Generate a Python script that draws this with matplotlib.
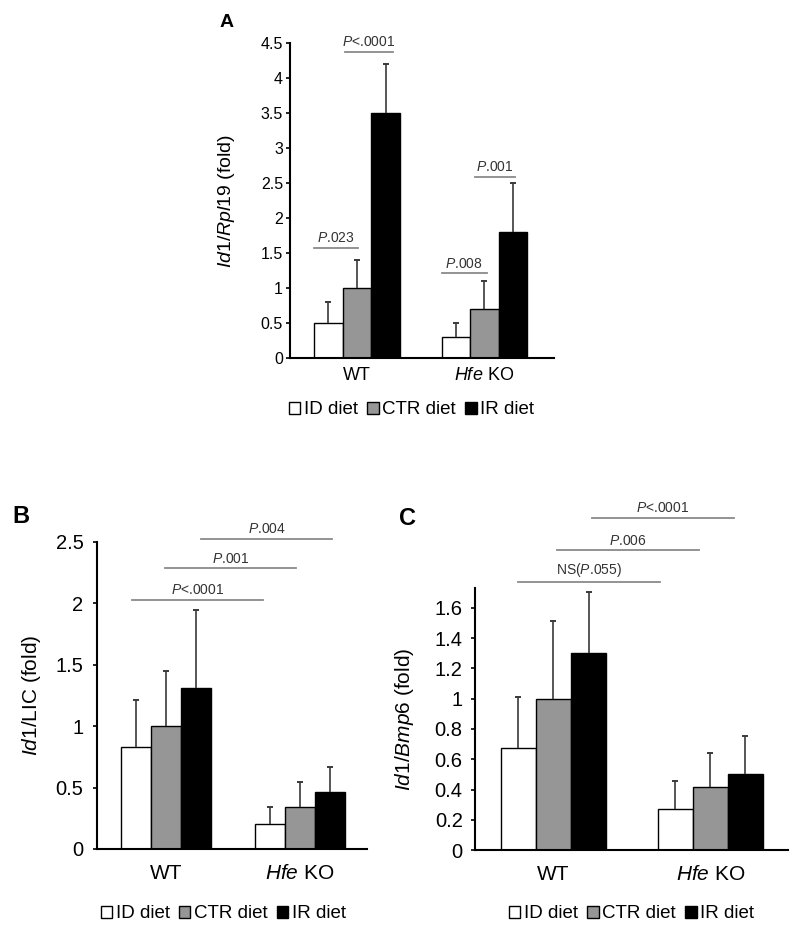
import numpy as np
import matplotlib
matplotlib.use("Agg")
import matplotlib.pyplot as plt
from matplotlib.ticker import FormatStrFormatter

plt.rcParams['font.family'] = ['Liberation Sans', 'DejaVu Sans']
plt.rcParams['mathtext.fontset'] = 'custom'
plt.rcParams['mathtext.rm'] = 'Liberation Sans'
plt.rcParams['mathtext.it'] = 'Liberation Sans:italic'

# categories
groups = ['WT', r'$\mathit{Hfe}$ KO']
diets = ['ID diet', 'CTR diet', 'IR diet']
diet_colors = ['white', '#969696', 'black']

# panel A : Id1/Rpl19
a_id = [0.5, 0.3]
a_ctr = [1.0, 0.7]
a_ir = [3.5, 1.8]
a_id_sd = [0.3, 0.2]
a_ctr_sd = [0.4, 0.4]
a_ir_sd = [0.7, 0.7]

# panel B : Id1/LIC
b_id = [0.83, 0.2]
b_ctr = [1.0, 0.345]
b_ir = [1.31, 0.465]
b_id_sd = [0.385, 0.145]
b_ctr_sd = [0.45, 0.2]
b_ir_sd = [0.635, 0.2]

# panel C : Id1/Bmp6
c_id = [0.673, 0.273]
c_ctr = [1.0, 0.415]
c_ir = [1.3, 0.5]
c_id_sd = [0.337, 0.182]
c_ctr_sd = [0.517, 0.226]
c_ir_sd = [0.406, 0.253]

# significance annotations: (x start, x end, y, text)
a_sig = [(-0.337, 0.009, 1.57, r'$\mathit{P}$.023'),
         (-0.094, 0.285, 4.37, r'$\mathit{P}$<.0001'),
         (0.664, 1.017, 1.21, r'$\mathit{P}$.008'),
         (0.925, 1.24, 2.59, r'$\mathit{P}$.001')]
b_sig = [(-0.254, 0.725, 2.027, r'$\mathit{P}$<.0001'),
         (-0.01, 0.97, 2.283, r'$\mathit{P}$.001'),
         (0.26, 1.24, 2.52, r'$\mathit{P}$.004')]
c_sig = [(-0.229, 0.68, 1.77, r'NS($\mathit{P}$.055)'),
         (0.022, 0.93, 1.98, r'$\mathit{P}$.006'),
         (0.245, 1.153, 2.196, r'$\mathit{P}$<.0001')]

fig = plt.figure(figsize=(8, 9.38), dpi=100)

axA = fig.add_axes([0.3625, 0.6183, 0.33, 0.3358])
axB = fig.add_axes([0.121, 0.0949, 0.338, 0.3276])
axC = fig.add_axes([0.594, 0.0938, 0.391, 0.279])

w = 0.224


def draw_panel(ax, means, sds, sig, ylim, yticks, xlim, ylabel, fs_tick, ypad, fs_x,
               fs_lab, fs_sig, xpad, labx):
    x = np.arange(len(groups))
    for i in range(3):
        xi = x + (i - 1) * w
        ax.bar(xi, means[i], w, color=diet_colors[i], edgecolor='black',
               linewidth=1.0, label=diets[i], zorder=2)
        # upper error bar only
        tops = np.array(means[i]) + np.array(sds[i])
        ax.vlines(xi, means[i], tops, color='#3a3a3a', lw=1.2, zorder=3)
        ax.plot(xi, tops, ls='none', marker='_', ms=5, mew=1.4, color='#3a3a3a',
                zorder=3)
    for x0, x1, y, s in sig:
        ax.plot([x0, x1], [y, y], color='#8a8a8a', lw=1.3, clip_on=False)
        ax.annotate(s, ((x0 + x1) / 2, y), xytext=(0, 2), textcoords='offset points',
                    ha='center', va='bottom', fontsize=fs_sig, color='#333333',
                    annotation_clip=False)
    ax.set_xlim(xlim)
    ax.set_ylim(ylim)
    ax.set_yticks(yticks)
    ax.yaxis.set_major_formatter(FormatStrFormatter('%g'))
    ax.set_xticks(x)
    ax.set_xticklabels(groups, fontsize=fs_x)
    ax.tick_params(axis='x', length=0, pad=xpad)
    ax.tick_params(axis='y', labelsize=fs_tick, length=3, width=1.2, direction='out',
                   pad=ypad)
    for s in ['top', 'right']:
        ax.spines[s].set_visible(False)
    for s in ['left', 'bottom']:
        ax.spines[s].set_linewidth(1.5)
    ax.set_ylabel(ylabel, fontsize=fs_lab)
    ax.yaxis.set_label_coords(labx, 0.5)


draw_panel(axA, [a_id, a_ctr, a_ir], [a_id_sd, a_ctr_sd, a_ir_sd], a_sig,
           (0, 4.5), np.arange(0, 4.51, 0.5), (-0.525, 1.545),
           r'$\mathit{Id1/Rpl19}$ (fold)', 11.5, 2, 13, 14, 10, 6.5, -0.2)
draw_panel(axB, [b_id, b_ctr, b_ir], [b_id_sd, b_ctr_sd, b_ir_sd], b_sig,
           (0, 2.5), np.arange(0, 2.51, 0.5), (-0.518, 1.501),
           r'$\mathit{Id1}$/LIC (fold)', 14.5, 6.5, 15, 15, 10, 11, -0.2)
draw_panel(axC, [c_id, c_ctr, c_ir], [c_id_sd, c_ctr_sd, c_ir_sd], c_sig,
           (0, 1.73), np.arange(0, 1.61, 0.2), (-0.499, 1.495),
           r'$\mathit{Id1/Bmp6}$ (fold)', 14.5, 6, 15, 15, 10, 11, -0.19)

# legends
for ax, cx, cy in [(axA, 0.5146, 0.563), (axB, 0.279, 0.0256), (axC, 0.7896, 0.0256)]:
    ax.legend(loc='center', bbox_to_anchor=(cx, cy), bbox_transform=fig.transFigure,
              ncol=3, frameon=False, fontsize=13.5, handlelength=0.6, handleheight=0.6,
              handletextpad=0.2, columnspacing=0.5, borderpad=0, borderaxespad=0)

# panel letters
fig.text(0.275, 0.976, 'A', fontsize=14, fontweight='bold', ha='left', va='center')
fig.text(0.015, 0.449, 'B', fontsize=17, fontweight='bold', ha='left', va='center')
fig.text(0.499, 0.447, 'C', fontsize=17, fontweight='bold', ha='left', va='center')

fig.savefig('out.png', dpi=100)
